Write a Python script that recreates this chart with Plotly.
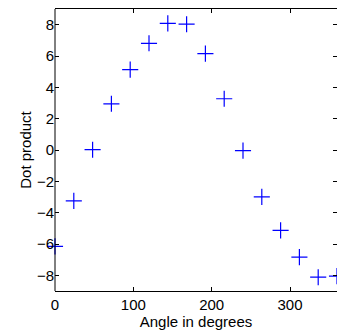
import plotly.graph_objects as go

angles = [0, 24, 48, 72, 96, 120, 144, 168, 192, 216, 240, 264, 288, 312, 336, 360]
dot_product = [-6.15, -3.25, 0.02, 2.95, 5.13, 6.81, 8.08, 8.03, 6.15, 3.27, -0.04, -2.99, -5.13, -6.84, -8.12, -8.05]

x_ticks = [0, 100, 200, 300]
y_ticks = [-8, -6, -4, -2, 0, 2, 4, 6, 8]

fig = go.Figure()
fig.add_trace(go.Scatter(
    x=angles, y=dot_product, mode="markers",
    marker=dict(symbol="cross-thin", size=11.5, line=dict(color="#0000ff", width=1.2)),
    cliponaxis=False,
))

font = dict(family="Liberation Sans, Arial, sans-serif", size=15, color="black")
fig.update_layout(
    width=337, height=332,
    margin=dict(l=55, r=0, t=9, b=41),
    paper_bgcolor="white", plot_bgcolor="white",
    showlegend=False,
    font=font,
    xaxis=dict(range=[0, 360], tickvals=x_ticks,
               showgrid=False, zeroline=False, showline=True, linecolor="black", linewidth=1,
               mirror="ticks", ticks="inside", ticklen=4, tickcolor="black", tickfont=font,
               title=dict(text="Angle in degrees", font=font, standoff=0)),
    yaxis=dict(range=[-9, 9], tickvals=y_ticks,
               showgrid=False, zeroline=False, showline=False,
               mirror="ticks", ticks="inside", ticklen=4, tickcolor="black", tickfont=font,
               title=dict(text="Dot product", font=font, standoff=1)),
    shapes=[dict(type="line", xref="paper", yref="paper", x0=0, x1=0, y0=0, y1=1,
                 line=dict(color="black", width=1))],
)
fig.write_html("out.html")
